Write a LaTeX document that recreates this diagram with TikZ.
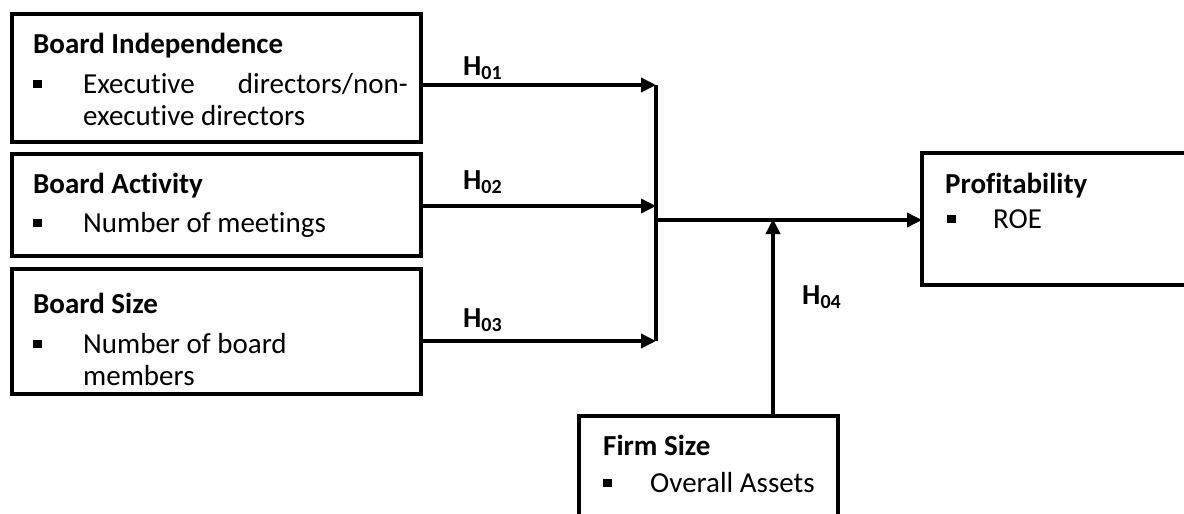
\documentclass[tikz,border=0pt]{standalone}
\usepackage{fontspec}
\setmainfont[Ligatures=NoCommon]{Carlito}
\usetikzlibrary{arrows.meta}
\tikzset{
  box/.style={draw=black, line width=4.5pt, rectangle, inner sep=0pt, outer sep=0pt},
  title/.style={anchor=base west, inner sep=0pt, font=\fontsize{29}{32}\selectfont\bfseries},
  body/.style={anchor=base west, inner sep=0pt, font=\fontsize{29}{32}\selectfont},
  bodyr/.style={anchor=base east, inner sep=0pt, font=\fontsize{29}{32}\selectfont},
  hyp/.style={anchor=base west, inner sep=0pt, font=\fontsize{29}{32}\selectfont\bfseries},
  arr/.style={line width=3.5pt, -{Triangle[length=15pt,width=14pt]}},
  bar/.style={line width=4pt},
}
\newcommand{\hsub}[1]{H\raisebox{-4pt}{\fontsize{20}{20}\selectfont #1}}
\begin{document}
\begin{tikzpicture}[x=1pt,y=-1pt]
\useasboundingbox (0,0) rectangle (1184,514);
\clip (0,0) rectangle (1184,514);
% boxes
\node[box, minimum width=409pt, minimum height=128pt] (bi) at (216.5,78) {};
\node[box, minimum width=409pt, minimum height=102pt] (ba) at (216.5,205) {};
\node[box, minimum width=409pt, minimum height=125pt] (bs) at (216.5,331.5) {};
\node[box, minimum width=300pt, minimum height=132pt] (pr) at (1072,219) {};
\node[box, minimum width=259pt, minimum height=130pt] (fs) at (708.5,481) {};
% texts
\node[title] (t1) at (33,53) {Board Independence};
\fill (33,80) rectangle (42,88);
\node[body] (t1a) at (83,93) {Executive};
\node[bodyr] (t1b) at (408,93) {directors/non-};
\node[body] (t1c) at (83,125) {executive directors};
\node[title] (t2) at (33,193) {Board Activity};
\fill (33,219) rectangle (42,227);
\node[body] (t2a) at (83,232) {Number of meetings};
\node[title] (t3) at (33,313) {Board Size};
\fill (33,340) rectangle (42,348);
\node[body] (t3a) at (83,353) {Number of board};
\node[body] (t3b) at (83,385) {members};
\node[title] (t4) at (945,193) {Profitability};
\fill (947,215) rectangle (956,223);
\node[body] (t4a) at (993,228) {ROE};
\node[title] (t5) at (603,455) {Firm Size};
\fill (603,479) rectangle (612,487);
\node[body] (t5a) at (650,492) {Overall Assets};
% hypothesis labels
\node[hyp] (h1) at (463,75) {\hsub{01}};
\node[hyp] (h2) at (463,189) {\hsub{02}};
\node[hyp] (h3) at (463,327) {\hsub{03}};
\node[hyp] (h4) at (802,304) {\hsub{04}};
% connectors
\coordinate (j1) at (656,85);
\coordinate (j2) at (656,206);
\coordinate (j3) at (656,341);
\coordinate (jm) at (656,220);
\coordinate (jf) at (773,220);
\draw[arr] (bi.east |- j1) -- (j1);
\draw[arr] (ba.east |- j2) -- (j2);
\draw[arr] (bs.east |- j3) -- (j3);
\draw[bar] (j1) -- (j3);
\draw[arr] (jm) -- (pr.west |- jm);
\draw[arr] (fs.north -| jf) -- ([yshift=1pt]jf);
\end{tikzpicture}
\end{document}
